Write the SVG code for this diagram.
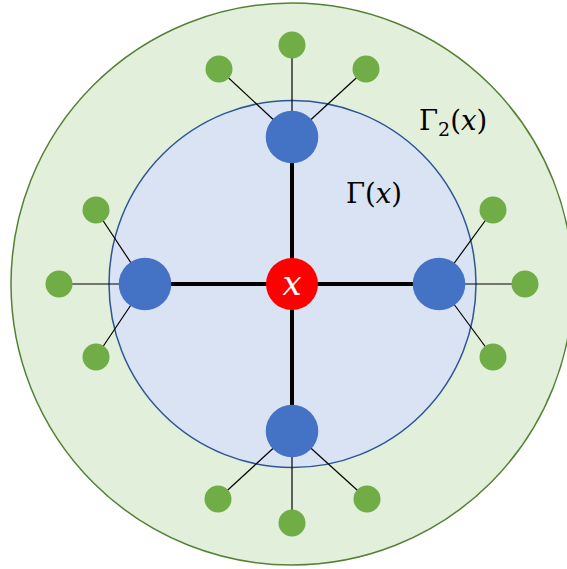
<svg xmlns="http://www.w3.org/2000/svg" width="567" height="569" viewBox="0 0 567 569">
<style>
.thin{stroke:#000;stroke-width:1.2;fill:none}
.thick{stroke:#000;stroke-width:4;fill:none}
.blue{fill:#4472C4}
.green{fill:#70AD47}
.lbl{font-family:"DejaVu Serif","Liberation Serif",serif;font-size:27.5px;fill:#000}
.it{font-style:italic}
</style>
<rect width="567" height="569" fill="#fff"/>
<g id="outer-region">
<circle cx="292" cy="284" r="281" fill="#E2EFDA" stroke="#548235" stroke-width="1.5"/>
</g>
<g id="inner-region">
<circle cx="292.5" cy="284" r="183.5" fill="#DAE3F3" stroke="#2F5597" stroke-width="1.5"/>
</g>
<g id="connectors">
<line class="thick" x1="292" y1="284" x2="292" y2="137"/>
<line class="thick" x1="292" y1="284" x2="292" y2="431"/>
<line class="thick" x1="292" y1="284" x2="145" y2="284"/>
<line class="thick" x1="292" y1="284" x2="439" y2="284"/>
<line class="thin" x1="292" y1="137" x2="292" y2="45"/>
<line class="thin" x1="292" y1="137" x2="219" y2="69"/>
<line class="thin" x1="292" y1="137" x2="366" y2="69"/>
<line class="thin" x1="292" y1="431" x2="292" y2="523"/>
<line class="thin" x1="292" y1="431" x2="218" y2="499"/>
<line class="thin" x1="292" y1="431" x2="367" y2="499"/>
<line class="thin" x1="145" y1="284" x2="59" y2="284"/>
<line class="thin" x1="145" y1="284" x2="96" y2="210"/>
<line class="thin" x1="145" y1="284" x2="96" y2="357"/>
<line class="thin" x1="439" y1="284" x2="525" y2="284"/>
<line class="thin" x1="439" y1="284" x2="493" y2="210"/>
<line class="thin" x1="439" y1="284" x2="493" y2="357"/>
</g>
<g id="node-x">
<circle cx="292" cy="284" r="26" fill="#FF0000"/>
<text x="292" y="295" text-anchor="middle" font-family="DejaVu Serif,Liberation Serif,serif" font-style="italic" font-size="34" fill="#fff">x</text>
</g>
<g id="n-top"><circle class="blue" cx="292" cy="137" r="26.3"/></g>
<g id="n-bottom"><circle class="blue" cx="292" cy="431" r="26.3"/></g>
<g id="n-left"><circle class="blue" cx="145" cy="284" r="26.3"/></g>
<g id="n-right"><circle class="blue" cx="439" cy="284" r="26.3"/></g>
<g id="g-top"><circle class="green" cx="292" cy="45" r="13.5"/></g>
<g id="g-top-left"><circle class="green" cx="219" cy="69" r="13.5"/></g>
<g id="g-top-right"><circle class="green" cx="366" cy="69" r="13.5"/></g>
<g id="g-bottom"><circle class="green" cx="292" cy="523" r="13.5"/></g>
<g id="g-bottom-left"><circle class="green" cx="218" cy="499" r="13.5"/></g>
<g id="g-bottom-right"><circle class="green" cx="367" cy="499" r="13.5"/></g>
<g id="g-left"><circle class="green" cx="59" cy="284" r="13.5"/></g>
<g id="g-left-top"><circle class="green" cx="96" cy="210" r="13.5"/></g>
<g id="g-left-bottom"><circle class="green" cx="96" cy="357" r="13.5"/></g>
<g id="g-right"><circle class="green" cx="525" cy="284" r="13.5"/></g>
<g id="g-right-top"><circle class="green" cx="493" cy="210" r="13.5"/></g>
<g id="g-right-bottom"><circle class="green" cx="493" cy="357" r="13.5"/></g>
<g id="label-gamma">
<text class="lbl" x="346" y="203">Γ(<tspan class="it">x</tspan>)</text>
</g>
<g id="label-gamma2">
<text class="lbl" x="419" y="130">Γ<tspan font-size="19" dy="6">2</tspan><tspan dy="-6">(</tspan><tspan class="it">x</tspan>)</text>
</g>
</svg>
